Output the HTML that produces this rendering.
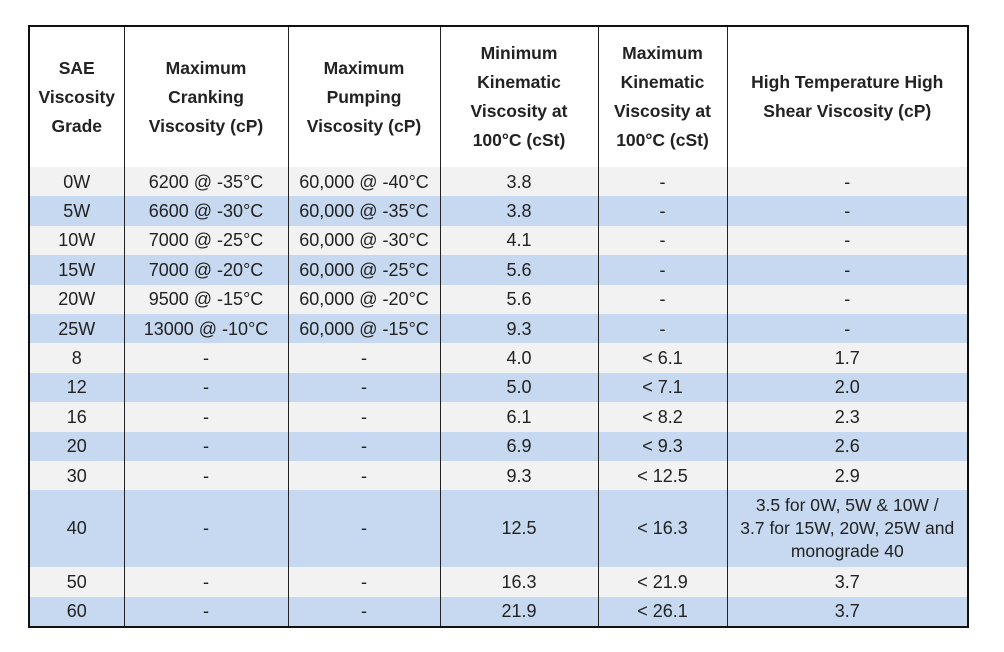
<!DOCTYPE html>
<html><head><style>
html,body{margin:0;padding:0;background:#fff;width:1004px;height:652px;overflow:hidden}
table{position:absolute;left:28px;top:25px;border-collapse:collapse;border:2px solid #111;font-family:"Liberation Sans",sans-serif;font-size:18px;color:#222;table-layout:fixed}
td,th{border-left:1px solid #222;border-right:1px solid #222;text-align:center;padding:0;line-height:20px;white-space:nowrap}
th{height:140px;font-weight:bold;line-height:29px;background:#fff;font-size:17.5px}
td{height:29.4px}
tr.g td{background:#f2f2f2}
tr.b td{background:#c6d9f0}
tr.t td{height:77px;line-height:23px}
</style></head><body>
<table>
<colgroup><col style="width:95px"><col style="width:164px"><col style="width:152px"><col style="width:158px"><col style="width:129px"><col style="width:241px"></colgroup>
<tr><th>SAE<br>Viscosity<br>Grade</th><th>Maximum<br>Cranking<br>Viscosity (cP)</th><th>Maximum<br>Pumping<br>Viscosity (cP)</th><th>Minimum<br>Kinematic<br>Viscosity at<br>100°C (cSt)</th><th>Maximum<br>Kinematic<br>Viscosity at<br>100°C (cSt)</th><th>High Temperature High<br>Shear Viscosity (cP)</th></tr>
<tr class="g"><td>0W</td><td>6200 @ -35°C</td><td>60,000 @ -40°C</td><td>3.8</td><td>-</td><td>-</td></tr>
<tr class="b"><td>5W</td><td>6600 @ -30°C</td><td>60,000 @ -35°C</td><td>3.8</td><td>-</td><td>-</td></tr>
<tr class="g"><td>10W</td><td>7000 @ -25°C</td><td>60,000 @ -30°C</td><td>4.1</td><td>-</td><td>-</td></tr>
<tr class="b"><td>15W</td><td>7000 @ -20°C</td><td>60,000 @ -25°C</td><td>5.6</td><td>-</td><td>-</td></tr>
<tr class="g"><td>20W</td><td>9500 @ -15°C</td><td>60,000 @ -20°C</td><td>5.6</td><td>-</td><td>-</td></tr>
<tr class="b"><td>25W</td><td>13000 @ -10°C</td><td>60,000 @ -15°C</td><td>9.3</td><td>-</td><td>-</td></tr>
<tr class="g"><td>8</td><td>-</td><td>-</td><td>4.0</td><td>&lt; 6.1</td><td>1.7</td></tr>
<tr class="b"><td>12</td><td>-</td><td>-</td><td>5.0</td><td>&lt; 7.1</td><td>2.0</td></tr>
<tr class="g"><td>16</td><td>-</td><td>-</td><td>6.1</td><td>&lt; 8.2</td><td>2.3</td></tr>
<tr class="b"><td>20</td><td>-</td><td>-</td><td>6.9</td><td>&lt; 9.3</td><td>2.6</td></tr>
<tr class="g"><td>30</td><td>-</td><td>-</td><td>9.3</td><td>&lt; 12.5</td><td>2.9</td></tr>
<tr class="b t"><td>40</td><td>-</td><td>-</td><td>12.5</td><td>&lt; 16.3</td><td style="font-size:17.5px">3.5 for 0W, 5W &amp; 10W /<br>3.7 for 15W, 20W, 25W and<br>monograde 40</td></tr>
<tr class="g"><td>50</td><td>-</td><td>-</td><td>16.3</td><td>&lt; 21.9</td><td>3.7</td></tr>
<tr class="b"><td>60</td><td>-</td><td>-</td><td>21.9</td><td>&lt; 26.1</td><td>3.7</td></tr>
</table>
</body></html>
